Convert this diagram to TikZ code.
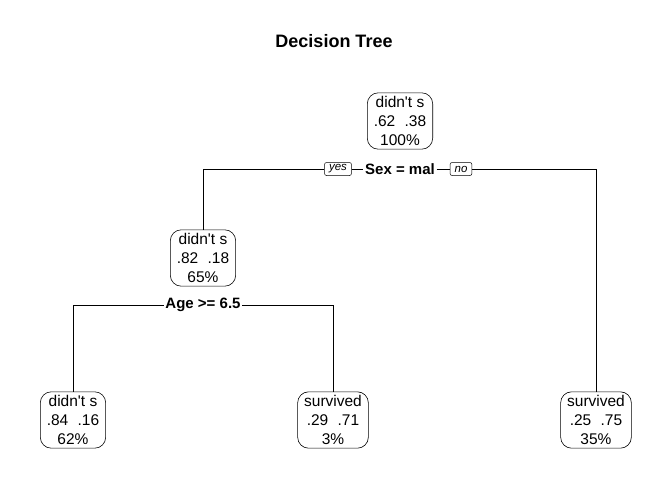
\documentclass[tikz,border=0pt]{standalone}
\usepackage{fontspec}
\setmainfont{Liberation Sans}
\begin{document}
\begin{tikzpicture}[x=1pt,y=-1pt,
  treenode/.style={draw, rounded corners=11pt, align=center, font=\fontsize{15.5}{19}\selectfont, inner xsep=6.5pt, inner ysep=3.5pt, fill=white, line width=0.6pt},
  splitlabel/.style={font=\fontsize{15}{18}\bfseries\selectfont, inner xsep=1.5pt, inner ysep=1pt},
  yesno/.style={draw, fill=white, rounded corners=2pt, font=\fontsize{11.5}{12}\itshape\selectfont, inner xsep=4.5pt, inner ysep=0pt, minimum height=13pt, line width=0.5pt},
  edge/.style={line width=0.7pt}]
\useasboundingbox (0,0) rectangle (672,480);
\node[font=\fontsize{18}{20}\bfseries\selectfont] (title) at (334,41) {Decision Tree};

\node[treenode] (root) at (400,121) {didn\textquotesingle t s\\.62\hspace{0.6em}.38\\100\%};
\node[treenode] (n2) at (203,258) {didn\textquotesingle t s\\.82\hspace{0.6em}.18\\65\%};
\node[treenode] (l1) at (73,420) {didn\textquotesingle t s\\.84\hspace{0.6em}.16\\62\%};
\node[treenode] (l2) at (333,420) {survived\\.29\hspace{0.6em}.71\\3\%};
\node[treenode] (l3) at (596,420) {survived\\.25\hspace{0.6em}.75\\35\%};

\node[splitlabel] (s1) at (400,169) {Sex = mal};
\node[yesno] (yes) at (338,169) {yes};
\node[yesno] (no) at (461,169) {no};
\node[splitlabel] (s2) at (203,305) {Age >= 6.5};

\draw[edge] (n2.north) |- (yes.west);
\draw[edge] (yes.east) -- (s1.west);
\draw[edge] (s1.east) -- (no.west);
\draw[edge] (no.east) -| (l3.north);
\draw[edge] (l1.north) |- (s2.west);
\draw[edge] (s2.east) -| (l2.north);
\end{tikzpicture}
\end{document}
